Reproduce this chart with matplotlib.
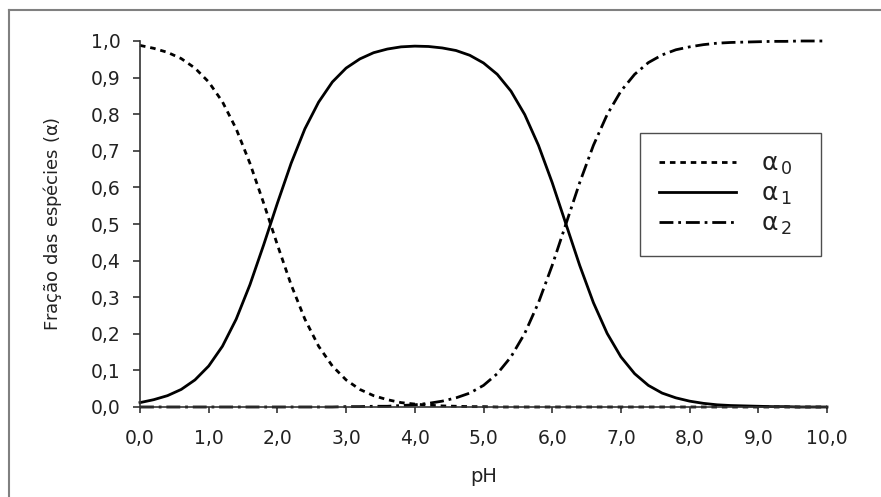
import matplotlib
matplotlib.use('Agg')
import matplotlib.pyplot as plt
from matplotlib.lines import Line2D

plt.rcParams['font.family'] = ['DejaVu Sans']
plt.rcParams['lines.scale_dashes'] = False

# pH values and species fractions
ph = [0.0, 0.2, 0.4, 0.6, 0.8, 1.0, 1.2, 1.4, 1.6, 1.8,
      2.0, 2.2, 2.4, 2.6, 2.8, 3.0, 3.2, 3.4, 3.6, 3.8,
      4.0, 4.2, 4.4, 4.6, 4.8, 5.0, 5.2, 5.4, 5.6, 5.8,
      6.0, 6.2, 6.4, 6.6, 6.8, 7.0, 7.2, 7.4, 7.6, 7.8,
      8.0, 8.2, 8.4, 8.6, 8.8, 9.0, 9.2, 9.4, 9.6, 9.8, 10.0]

alpha0 = [0.988, 0.980, 0.969, 0.952, 0.926, 0.888, 0.834, 0.760, 0.666, 0.557,
          0.443, 0.334, 0.240, 0.166, 0.112, 0.074, 0.048, 0.031, 0.020, 0.012,
          0.008, 0.005, 0.003, 0.002, 0.001, 0.001, 0.000, 0.000, 0.000, 0.000,
          0.000, 0.000, 0.000, 0.000, 0.000, 0.000, 0.000, 0.000, 0.000, 0.000,
          0.000, 0.000, 0.000, 0.000, 0.000, 0.000, 0.000, 0.000, 0.000, 0.000, 0.000]

alpha1 = [0.012, 0.020, 0.031, 0.048, 0.074, 0.112, 0.166, 0.240, 0.334, 0.443,
          0.557, 0.666, 0.760, 0.833, 0.888, 0.926, 0.951, 0.968, 0.978, 0.984,
          0.986, 0.985, 0.981, 0.974, 0.961, 0.940, 0.909, 0.863, 0.799, 0.715,
          0.613, 0.500, 0.387, 0.285, 0.201, 0.137, 0.091, 0.059, 0.038, 0.025,
          0.016, 0.010, 0.006, 0.004, 0.003, 0.002, 0.001, 0.001, 0.000, 0.000, 0.000]

alpha2 = [0.000, 0.000, 0.000, 0.000, 0.000, 0.000, 0.000, 0.000, 0.000, 0.000,
          0.000, 0.000, 0.000, 0.000, 0.000, 0.001, 0.001, 0.002, 0.002, 0.004,
          0.006, 0.010, 0.016, 0.025, 0.038, 0.059, 0.091, 0.137, 0.201, 0.285,
          0.387, 0.500, 0.613, 0.715, 0.799, 0.863, 0.909, 0.941, 0.962, 0.976,
          0.984, 0.990, 0.994, 0.996, 0.997, 0.998, 0.999, 0.999, 1.000, 1.000, 1.000]

xticks = [0, 1, 2, 3, 4, 5, 6, 7, 8, 9, 10]
xticklabels = ['0,0', '1,0', '2,0', '3,0', '4,0', '5,0', '6,0', '7,0', '8,0', '9,0', '10,0']
yticks = [0.0, 0.1, 0.2, 0.3, 0.4, 0.5, 0.6, 0.7, 0.8, 0.9, 1.0]
yticklabels = ['0,0', '0,1', '0,2', '0,3', '0,4', '0,5', '0,6', '0,7', '0,8', '0,9', '1,0']

W, H = 881, 497
fig = plt.figure(figsize=(W / 100, H / 100), dpi=100)
ax = fig.add_axes([140 / W, 1 - 407 / H, (827 - 140) / W, (407 - 41) / H])

ax.plot(ph, alpha0, color='black', lw=2.0, dashes=(4, 3.5), clip_on=False,
        label=r'$\mathrm{\alpha}_{\,0}$  ')
ax.plot(ph, alpha1, color='black', lw=2.0, clip_on=False,
        label=r'$\mathrm{\alpha}_{\,1}$  ')
ax.plot(ph, alpha2, color='black', lw=2.0, dashes=(10, 3.5, 2, 3.5), clip_on=False,
        label=r'$\mathrm{\alpha}_{\,2}$  ')

ax.set_xlim(0, 10)
ax.set_ylim(0, 1.0)
ax.set_xticks(xticks)
ax.set_xticklabels(xticklabels)
ax.set_yticks(yticks)
ax.set_yticklabels(yticklabels)

for s in ['top', 'right']:
    ax.spines[s].set_visible(False)
for s in ['left', 'bottom']:
    ax.spines[s].set_color('#333333')
    ax.spines[s].set_linewidth(1.2)

ax.tick_params(axis='x', direction='out', length=4.5, width=1.2, color='#333333',
               labelsize=13.5, labelcolor='#222222', pad=11)
ax.tick_params(axis='y', direction='out', length=5, width=1.2, color='#333333',
               labelsize=13.5, labelcolor='#222222', pad=9)

ax.set_xlabel('pH', fontsize=14, color='#222222', labelpad=14)
ax.set_ylabel(r'Fração das espécies ($\mathrm{\alpha}$)', fontsize=13, color='#222222',
              labelpad=19)

leg = ax.legend(loc='upper left', bbox_to_anchor=(640 / W, 1 - 133 / H),
                bbox_transform=fig.transFigure, borderaxespad=0, fontsize=18,
                frameon=True, fancybox=False, handlelength=3.1, handletextpad=1.0,
                borderpad=0.75, labelspacing=0.2)
leg.get_frame().set_edgecolor('#222222')
leg.get_frame().set_linewidth(1.0)
for t in leg.get_texts():
    t.set_color('#222222')

# outer frame (only top and left edges visible)
fig.add_artist(Line2D([9 / W, 1.0], [1 - 10 / H, 1 - 10 / H], color='#808080', lw=1.5,
                      transform=fig.transFigure))
fig.add_artist(Line2D([9 / W, 9 / W], [0.0, 1 - 10 / H], color='#808080', lw=1.5,
                      transform=fig.transFigure))

fig.savefig('out.png', dpi=100)
